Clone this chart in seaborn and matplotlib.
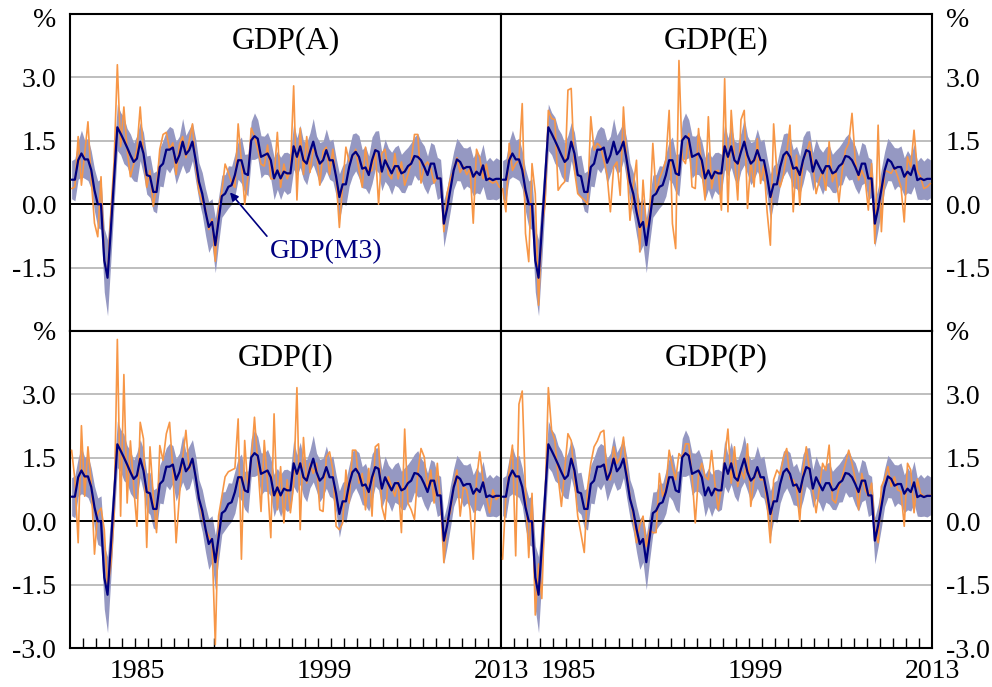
import numpy as np
import pandas as pd
import matplotlib
matplotlib.use('Agg')
import matplotlib.pyplot as plt
import seaborn as sns

sns.set_style('white')
plt.rcParams['font.family'] = ['Liberation Serif', 'DejaVu Serif']

# ---------------- data (quarterly growth, %, 1980Q1 - 2012Q4) ----------------
gdp_m3 = [
    0.58, 0.58, 1.04, 1.20, 1.06, 1.06, 0.81, 0.33,
    0.00, 0.00, -1.33, -1.74, -0.60, 0.60, 1.82, 1.67,
    1.51, 1.34, 1.16, 1.00, 1.08, 1.48, 1.20, 0.69,
    0.66, 0.29, 0.29, 0.88, 0.96, 1.29, 1.29, 1.34,
    0.98, 1.16, 1.48, 1.18, 1.28, 1.48, 1.04, 0.53,
    0.25, -0.18, -0.54, -0.42, -0.97, -0.38, 0.19, 0.25,
    0.41, 0.45, 0.69, 1.04, 1.04, 0.73, 0.69, 1.51,
    1.61, 1.55, 1.12, 1.16, 1.20, 1.04, 0.61, 0.80,
    0.61, 0.77, 0.73, 0.73, 1.37, 1.12, 1.37, 1.04,
    0.96, 1.24, 1.48, 1.16, 0.96, 1.04, 1.28, 1.04,
    1.04, 0.65, 0.17, 0.47, 0.47, 0.88, 1.16, 1.24,
    1.12, 0.84, 0.87, 0.69, 1.04, 1.28, 1.24, 0.77,
    1.04, 0.88, 0.73, 0.90, 0.90, 0.73, 0.77, 0.90,
    0.96, 1.14, 1.12, 1.04, 0.88, 0.69, 0.96, 0.96,
    0.61, 0.61, -0.46, -0.10, 0.35, 0.80, 1.06, 1.00,
    0.84, 0.88, 0.88, 0.65, 0.77, 0.69, 0.92, 0.57,
    0.61, 0.57, 0.60, 0.60]

band_halfwidth = [
    0.45, 0.50, 0.45, 0.55, 0.45, 0.50, 0.45, 0.50,
    0.55, 0.60, 0.75, 0.90, 0.75, 0.60, 0.55, 0.50,
    0.55, 0.45, 0.50, 0.45, 0.55, 0.45, 0.50, 0.45,
    0.50, 0.45, 0.50, 0.45, 0.55, 0.45, 0.55, 0.45,
    0.50, 0.45, 0.55, 0.45, 0.50, 0.45, 0.50, 0.45,
    0.50, 0.55, 0.60, 0.55, 0.65, 0.55, 0.50, 0.45,
    0.50, 0.45, 0.50, 0.45, 0.55, 0.45, 0.50, 0.45,
    0.55, 0.45, 0.50, 0.45, 0.50, 0.45, 0.50, 0.45,
    0.50, 0.45, 0.50, 0.45, 0.55, 0.45, 0.50, 0.45,
    0.50, 0.45, 0.55, 0.45, 0.50, 0.45, 0.50, 0.45,
    0.50, 0.45, 0.55, 0.45, 0.50, 0.45, 0.50, 0.45,
    0.50, 0.45, 0.50, 0.45, 0.55, 0.45, 0.50, 0.45,
    0.50, 0.45, 0.50, 0.45, 0.50, 0.45, 0.50, 0.45,
    0.50, 0.45, 0.55, 0.45, 0.50, 0.45, 0.50, 0.45,
    0.50, 0.45, 0.55, 0.50, 0.50, 0.45, 0.50, 0.45,
    0.50, 0.45, 0.50, 0.45, 0.50, 0.45, 0.50, 0.45,
    0.50, 0.45, 0.50, 0.45]

gdp_a = [
    0.37, 0.41, 1.60, 0.45, 1.20, 1.95, 0.60, -0.45,
    -0.77, 0.65, -1.33, -1.72, -0.20, 1.00, 3.30, 1.36,
    2.30, 1.28, 0.65, 0.95, 1.30, 2.30, 1.20, 0.40,
    0.80, -0.05, 0.40, 1.30, 1.65, 1.70, 1.30, 1.45,
    0.70, 1.40, 1.60, 1.10, 1.50, 1.90, 0.90, 0.30,
    0.05, -0.10, -0.60, -0.35, -1.35, -0.10, 0.30, 0.95,
    0.75, 0.50, 0.40, 1.90, 1.00, 0.00, 0.65, 1.80,
    1.60, 1.30, 0.95, 0.90, 1.40, 0.60, 0.60, 1.70,
    0.40, 0.95, 0.60, 0.80, 2.80, 0.10, 1.80, 0.70,
    1.60, 0.75, 1.30, 1.20, 0.45, 1.25, 1.35, 0.70,
    1.30, 0.60, -0.55, 0.45, 1.35, 1.00, 1.10, 1.30,
    0.80, 0.40, 1.35, 0.75, 0.80, 1.30, 0.00, 1.20,
    1.30, 0.70, 0.60, 1.20, 0.60, 1.00, 0.45, 0.70,
    1.00, 1.65, 1.65, 0.50, 0.90, 1.00, 0.85, 0.50,
    0.65, 0.60, -0.65, 0.25, 0.60, 0.80, 1.10, 0.75,
    0.90, 0.70, 0.85, -0.45, 1.30, 1.10, 0.60, 0.95,
    0.55, 0.50, 0.55, 0.40]

gdp_e = [
    0.37, -0.18, 1.44, 0.80, 0.96, 1.04, 2.38, -0.69,
    -1.36, 0.96, 0.25, -2.39, -0.54, 0.00, 2.22, 2.03,
    2.00, 0.33, 0.45, 0.53, 2.70, 2.74, 0.80, 0.25,
    0.17, 0.10, 0.00, 2.07, 1.28, 1.44, 1.36, 1.04,
    0.69, -0.18, 0.88, 1.00, 0.21, 2.30, 1.04, -0.38,
    0.41, 1.04, -1.13, 0.57, -0.54, -0.26, 1.44, 0.25,
    0.60, 0.80, 1.04, 2.22, -0.46, -1.05, 3.40, 1.08,
    0.96, 1.67, 0.41, 0.37, 1.79, 0.80, 0.10, 2.07,
    0.37, 0.77, 0.80, -0.14, 2.97, -0.18, 2.22, 1.12,
    0.10, 2.00, 2.22, -0.10, 1.04, 0.41, 1.55, 0.49,
    0.96, -0.18, -0.97, 1.90, 0.73, 0.41, 0.69, 1.20,
    1.87, -0.18, 1.16, -0.02, 1.04, 1.20, 1.48, 0.96,
    0.25, 0.57, 0.80, 0.33, 1.48, 0.53, 0.80, 0.05,
    0.80, 1.28, 1.44, 2.15, 1.04, 0.57, 0.80, 0.61,
    -0.14, 0.96, -0.93, 1.87, -0.65, 0.80, 0.77, 0.73,
    0.88, 0.65, 0.41, -0.42, 1.12, 0.88, 1.75, 0.80,
    0.65, 0.37, 0.41, 0.49]

gdp_i = [
    1.68, 0.98, -0.51, 2.26, 0.59, 1.76, 0.90, -0.78,
    0.20, 0.31, -0.20, -1.60, -1.05, 0.16, 4.30, 0.12,
    3.47, 0.43, 1.90, 0.82, -0.12, 2.34, 1.95, -0.62,
    1.76, 0.59, -0.27, 1.79, 1.44, 2.07, 2.34, 1.21,
    -0.51, 0.59, 1.48, 2.15, 1.21, 1.48, 1.05, 0.51,
    0.12, -0.20, -0.35, -0.51, -2.92, 0.12, 0.59, 1.05,
    1.17, 1.21, 1.25, 2.42, -0.90, 1.91, 0.74, 1.40,
    2.46, 1.37, 0.23, 1.91, 0.90, -0.39, 2.54, 0.27,
    1.29, -0.04, 0.98, 0.20, 0.86, 3.16, -0.20, 1.98,
    0.90, 1.37, 1.13, 1.37, 0.27, 0.23, 1.52, 1.64,
    1.21, -0.12, -0.20, -0.04, 1.21, 0.43, 1.68, 1.68,
    0.90, 1.13, 0.27, 1.25, 0.12, 1.76, 1.83, 0.35,
    0.04, 1.05, 0.82, 0.59, 0.94, -0.27, 2.18, 0.43,
    0.27, 0.04, 1.13, 1.72, 1.52, 0.74, 1.21, 0.43,
    1.37, 0.43, -0.98, 0.04, 0.20, 0.82, 1.21, 0.12,
    0.82, 0.74, 0.27, -0.90, 0.98, 1.64, 0.98, 0.59,
    0.20, 0.74, 0.51, 0.59]

gdp_p = [
    -0.90, 0.60, 1.20, 1.80, -0.82, 2.77, 3.08, 0.74,
    -0.86, 0.66, -2.22, -1.01, -1.83, 0.50, 3.16, 2.15,
    1.91, 1.05, 0.35, 1.20, 2.07, 1.91, 0.98, 0.12,
    -0.30, -0.74, 0.78, 1.37, 1.76, 1.90, 2.10, 2.15,
    1.00, 0.98, 1.76, 1.37, 1.50, 1.99, 1.20, 0.59,
    0.12, -0.51, -0.10, 0.12, -0.60, -0.20, -0.27, -0.27,
    1.13, 0.59, 0.80, 1.68, 1.29, 0.98, 1.60, 1.50,
    1.83, 1.83, 1.10, -0.04, 1.10, 1.37, 1.05, 0.98,
    1.67, 0.90, 0.27, 0.80, 1.50, 2.18, 0.90, 1.76,
    0.82, 1.20, 1.00, 1.83, 0.35, 1.00, 1.21, 0.98,
    0.98, 0.40, -0.51, 0.98, 1.21, 1.10, 1.50, 1.72,
    1.00, 0.98, 0.80, 0.00, 1.21, 1.76, 1.20, 0.74,
    0.20, 0.78, 1.37, 1.20, 1.80, 0.51, 0.43, 0.80,
    1.05, 1.37, 1.68, 1.37, 1.00, 0.27, 1.13, 0.74,
    0.59, 0.90, -0.20, -0.51, 0.82, 1.00, 1.29, 0.82,
    1.05, 0.74, 0.70, -0.12, 1.37, 1.21, 0.20, 1.00,
    0.66, 0.59, 0.59, 0.62]

panel_names = ['GDP(A)', 'GDP(E)', 'GDP(I)', 'GDP(P)']
panel_series = [gdp_a, gdp_e, gdp_i, gdp_p]
x_tick_years = [1985.15, 1999.45, 2013.0]
x_tick_labels = ['1985', '1999', '2013']
y_ticks = [-3.0, -1.5, 0.0, 1.5, 3.0, 4.5]

# ---------------- styling ----------------
c_orange = '#F79646'
c_navy = '#000080'
c_band = '#9598C2'
c_grid = '#BEBEBE'

quarters = pd.period_range('1980Q1', periods=len(gdp_m3), freq='Q')
xq = np.asarray(quarters.year + (quarters.quarter - 0.5) / 4.0, dtype=float)
m3 = np.asarray(gdp_m3)
hw = np.asarray(band_halfwidth)

fig, axes = plt.subplots(2, 2, figsize=(9.92, 6.87), dpi=100)
fig.patch.set_facecolor('white')
fig.subplots_adjust(left=70/992, right=932/992, top=1-14/687, bottom=1-648/687,
                    wspace=0, hspace=0)

for k, ax in enumerate(axes.flat):
    row, col = divmod(k, 2)
    ax.set_facecolor('white')
    for yv in [-1.5, 1.5, 3.0]:
        ax.axhline(yv, color=c_grid, lw=1.4, zorder=1)
    ax.fill_between(xq, m3 - hw, m3 + hw, color=c_band, lw=0, zorder=2)
    ax.axhline(0, color='black', lw=1.4, zorder=2.5)
    sns.lineplot(x=xq, y=np.asarray(panel_series[k]), ax=ax, color=c_orange,
                 lw=1.2, zorder=3, legend=False)
    sns.lineplot(x=xq, y=m3, ax=ax, color=c_navy, lw=1.6, zorder=4, legend=False)

    ax.set_xlim(1980, 2013)
    ax.set_ylim(-3, 4.5)
    ax.set_xlabel('')
    ax.set_ylabel('')
    ax.grid(False)
    for sp in ax.spines.values():
        sp.set_color('black')
        sp.set_linewidth(1.5)
        sp.set_visible(True)

    ax.text(0.5, 1 - 27/316, panel_names[k], transform=ax.transAxes,
            ha='center', va='center', fontsize=23, color='black', zorder=6)

    # y axis
    ax.set_yticks(y_ticks)
    labs = ['-3.0', '-1.5', '0.0', '1.5', '3.0', '%']
    if row == 0:
        labs[0] = ''
        labs[-1] = ''
        if col == 0:
            ax.annotate('%', xy=(0, 1), xycoords='axes fraction', xytext=(-10, -5),
                        textcoords='offset points', ha='right', va='center',
                        fontsize=20, color='black')
        else:
            ax.annotate('%', xy=(1, 1), xycoords='axes fraction', xytext=(10, -5),
                        textcoords='offset points', ha='left', va='center',
                        fontsize=20, color='black')
    ax.set_yticklabels(labs)
    ax.tick_params(axis='y', length=0, labelsize=20, pad=10, colors='black')
    if col == 1:
        ax.yaxis.tick_right()
        ax.tick_params(axis='y', labelright=True, labelleft=False, length=0)
    else:
        ax.tick_params(axis='y', labelleft=True, labelright=False)

    # x axis
    if row == 1:
        ax.set_xticks(x_tick_years)
        ax.set_xticklabels(x_tick_labels)
        ax.set_xticks(list(range(1981, 2013)), minor=True)
        ax.tick_params(axis='x', which='major', length=0, labelsize=20, pad=8,
                       colors='black')
        ax.tick_params(axis='x', which='minor', direction='in', length=7,
                       width=1, color='black', bottom=True)
    else:
        ax.set_xticks([])
        ax.set_xticks([], minor=True)

axes[0, 0].annotate('GDP(M3)', xy=(1992.25, 0.28), xytext=(1999.6, -1.13),
                    color=c_navy, fontsize=20, ha='center', va='center',
                    arrowprops=dict(arrowstyle='-|>', color=c_navy, lw=1.2,
                                    relpos=(0.0, 1.0), shrinkA=0, shrinkB=0,
                                    mutation_scale=12),
                    zorder=7)

fig.savefig('out.png', dpi=100, facecolor='white')
